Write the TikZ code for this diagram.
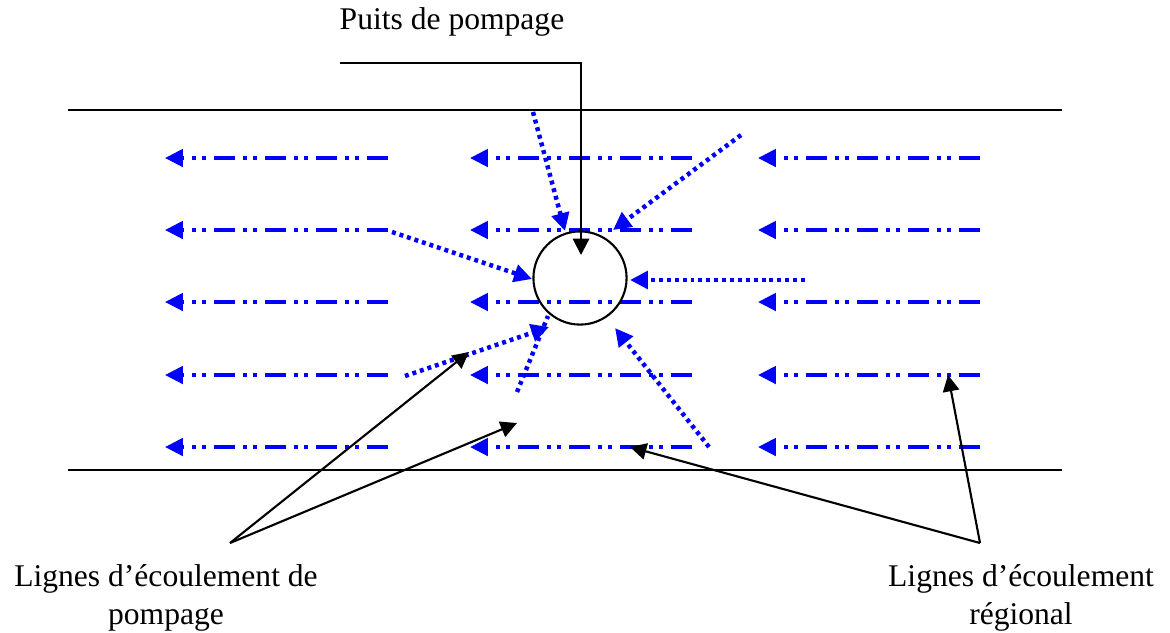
\documentclass[tikz,border=0pt]{standalone}
\usepackage{fontspec}
\setmainfont{Liberation Serif}
\usepackage{tikz}
\usetikzlibrary{arrows.meta}
\definecolor{flowblue}{RGB}{0,0,255}
\tikzset{
  regflow/.style={-{Triangle[length=6.8pt,width=6.6pt]}, flowblue, line width=1.4pt,
                  dash pattern=on 7.8pt off 3.2pt on 1.4pt off 2.4pt on 1.4pt off 3.2pt},
  pumpflow/.style={-{Triangle[length=6.8pt,width=6.6pt]}, flowblue, line width=1.7pt,
                   dash pattern=on 1.5pt off 1.5pt},
  pumpline/.style={flowblue, line width=1.7pt, dash pattern=on 1.5pt off 1.5pt},
  callout/.style={-{Triangle[length=6.2pt,width=6.2pt]}, black, line width=0.8pt},
  labeltext/.style={font=\fontsize{12}{14.4}\selectfont, align=center, inner sep=0pt}
}
\begin{document}
\begin{tikzpicture}[x=0.38pt, y=-0.38pt]
  \useasboundingbox (0,0) rectangle (1170,632);

  % aquifer limits
  \coordinate (topL) at (68,110);  \coordinate (topR) at (1062,110);
  \coordinate (botL) at (68,470);  \coordinate (botR) at (1062,470);
  \draw[line width=0.7pt] (topL) -- (topR);
  \draw[line width=0.7pt] (botL) -- (botR);

  % regional flow lines
  \foreach \y [count=\i] in {158,230,302,375,447}
    \foreach \xa/\xb [count=\j] in {165/388,470/692,758/980} {
      \coordinate (s\i\j) at (\xb,\y);
      \coordinate (t\i\j) at (\xa,\y);
      \draw[regflow] (s\i\j) -- (t\i\j);
    }

  % pumping well
  \node[draw, circle, line width=0.8pt, minimum size=35.4pt, inner sep=0pt] (well) at (580,278) {};

  % pumping flow lines
  \coordinate (pa0) at (533,112);  \coordinate (pa1) at (565,231);
  \coordinate (pb0) at (741,135);  \coordinate (pb1) at (613,230);
  \coordinate (pc0) at (392,232);  \coordinate (pc1) at (532,279);
  \coordinate (pd0) at (805,280);  \coordinate (pd1) at (630,280);
  \coordinate (pe0) at (405,376);  \coordinate (pe1) at (549,327);
  \coordinate (pf0) at (517,392);  \coordinate (pf1) at (548,316);
  \coordinate (pg0) at (709,447);  \coordinate (pg1) at (615,328);
  \draw[pumpflow] (pa0) -- (pa1);
  \draw[pumpflow] (pb0) -- (pb1);
  \draw[pumpflow] (pc0) -- (pc1);
  \draw[pumpflow] (pd0) -- (pd1);
  \draw[pumpflow] (pe0) -- (pe1);
  \draw[pumpline] (pf0) -- (pf1);
  \draw[pumpflow] (pg0) -- (pg1);

  % labels
  \node[labeltext] (wellname) at (452,22) {Puits de pompage};
  \node[labeltext] (pumplab) at (166,598) {Lignes d’écoulement de\\pompage};
  \node[labeltext] (reglab) at (1021,598) {Lignes d’écoulement\\régional};

  \coordinate (wk) at (340,63);
  \coordinate (wtip) at (581,255);
  \draw[callout] (wk) -| (wtip);

  \coordinate (pk) at (230,543);
  \coordinate (pt1) at (469,352);
  \coordinate (pt2) at (517,423);
  \draw[callout] (pk) -- (pt1);
  \draw[callout] (pk) -- (pt2);

  \coordinate (rk) at (980,543);
  \coordinate (rt1) at (630,447);
  \coordinate (rt2) at (948,375);
  \draw[callout] (rk) -- (rt1);
  \draw[callout] (rk) -- (rt2);
\end{tikzpicture}
\end{document}
